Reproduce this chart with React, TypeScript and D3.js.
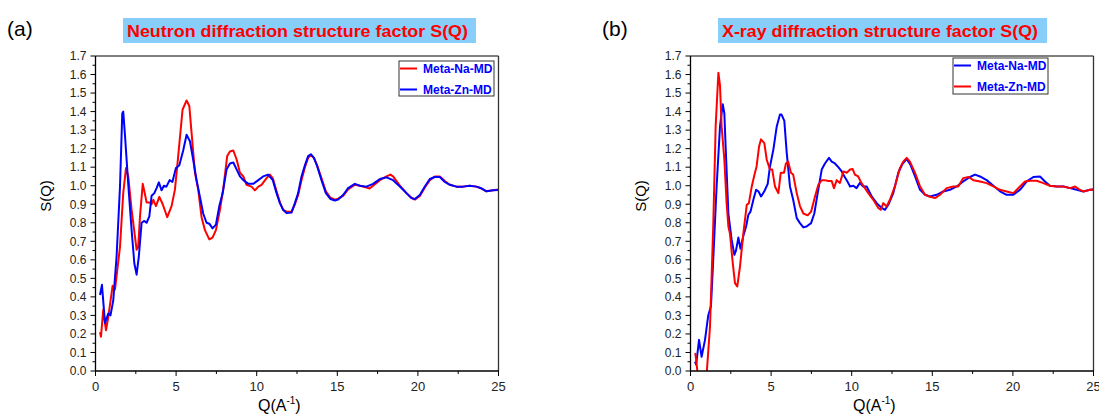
import React from "react";
import * as d3 from "d3";

// ---------- DATA ----------
// Panel (a) neutron S(Q)
const nNaQ = [0.28,0.34,0.48,0.65,0.79,1.06,1.21,1.52,1.72,1.89,2.03,2.24,2.55,2.65,2.76,2.93,3.03,3.17,3.38,3.48,3.59,3.75,3.96,4.17,4.45,4.72,4.93,5.13,5.40,5.65,5.82,5.96,6.17,6.37,6.58,6.79,7.06,7.26,7.47,7.72,7.92,8.17,8.34,8.55,8.76,8.96,9.17,9.37,9.68,9.89,10.1,10.3,10.6,10.82,11.0,11.23,11.44,11.64,11.85,12.16,12.37,12.57,12.78,12.99,13.19,13.36,13.55,13.75,14.02,14.29,14.58,14.85,15.05,15.36,15.67,16.09,16.4,16.81,17.0,17.22,17.64,18.05,18.3,18.46,18.88,19.29,19.6,19.81,20.12,20.43,20.74,21.05,21.36,21.67,21.98,22.39,22.8,23.22,23.63,23.94,24.25,24.67,25];
const nNaS = [0.21,0.185,0.33,0.22,0.29,0.46,0.44,0.67,0.96,1.095,1.05,0.87,0.654,0.67,0.834,1.01,0.97,0.91,0.91,0.90,0.924,0.89,0.94,0.90,0.83,0.89,0.98,1.16,1.41,1.46,1.43,1.285,1.07,0.98,0.83,0.76,0.71,0.72,0.76,0.87,0.98,1.16,1.185,1.19,1.14,1.07,1.05,1.005,0.995,0.975,0.995,1.005,1.04,1.06,1.04,0.97,0.91,0.87,0.86,0.86,0.90,0.95,1.03,1.10,1.15,1.165,1.15,1.11,1.04,0.97,0.935,0.925,0.93,0.945,0.98,1.005,1.0,0.99,0.985,1.0,1.03,1.05,1.06,1.05,1.0,0.96,0.935,0.925,0.945,0.99,1.03,1.05,1.05,1.025,1.005,0.995,0.995,1.0,0.995,0.985,0.97,0.975,0.98];
const nZnQ = [0.28,0.40,0.59,0.79,0.93,1.1,1.31,1.52,1.66,1.72,1.83,2.03,2.24,2.41,2.55,2.69,2.86,3.03,3.17,3.34,3.48,3.65,3.79,3.93,4.1,4.24,4.4,4.6,4.77,4.99,5.2,5.44,5.65,5.86,6.06,6.27,6.48,6.68,6.89,7.06,7.26,7.47,7.68,7.89,8.13,8.34,8.55,8.76,8.96,9.17,9.48,9.79,10.1,10.4,10.7,11.0,11.23,11.44,11.64,11.85,12.16,12.37,12.57,12.78,12.99,13.19,13.36,13.55,13.75,14.02,14.29,14.58,14.85,15.05,15.36,15.67,16.09,16.4,16.81,17.22,17.64,18.05,18.46,18.88,19.29,19.6,19.81,20.12,20.43,20.74,21.05,21.36,21.67,21.98,22.39,22.8,23.22,23.63,23.94,24.25,24.67,25];
const nZnS = [0.41,0.465,0.258,0.31,0.30,0.38,0.62,0.996,1.39,1.40,1.27,1.01,0.76,0.58,0.52,0.62,0.80,0.81,0.80,0.834,0.946,0.96,0.987,1.018,0.975,1.0,0.995,1.03,1.02,1.095,1.11,1.19,1.275,1.24,1.14,1.03,0.94,0.85,0.80,0.795,0.77,0.79,0.89,0.96,1.087,1.12,1.125,1.087,1.05,1.03,1.01,1.01,1.03,1.05,1.06,1.03,0.96,0.906,0.87,0.852,0.855,0.906,0.96,1.05,1.11,1.16,1.17,1.15,1.105,1.03,0.96,0.928,0.92,0.925,0.95,0.987,1.01,1.0,0.995,1.01,1.036,1.045,1.03,0.996,0.96,0.933,0.928,0.95,0.996,1.036,1.047,1.047,1.02,1.005,0.995,0.995,1.0,0.995,0.986,0.97,0.975,0.977];

// Panel (b) X-ray S(Q)
const xNaQ = [0.28,0.35,0.53,0.69,0.9,1.1,1.27,1.41,1.62,1.83,2.0,2.1,2.18,2.35,2.55,2.72,2.82,2.97,3.1,3.28,3.45,3.59,3.72,3.9,4.07,4.21,4.38,4.58,4.79,4.93,5.14,5.35,5.55,5.65,5.82,5.97,6.17,6.37,6.59,6.79,7.0,7.2,7.48,7.68,7.89,8.14,8.34,8.59,8.76,8.96,9.17,9.38,9.55,9.69,9.9,10.1,10.3,10.5,10.7,10.93,11.24,11.55,11.86,12.07,12.27,12.58,12.89,13.16,13.41,13.66,13.93,14.24,14.55,14.86,15.27,15.68,16.1,16.51,16.92,17.34,17.65,17.96,18.37,18.79,19.2,19.61,20.03,20.44,20.86,21.27,21.68,21.99,22.3,22.72,23.13,23.55,23.96,24.37,24.79,25];
const xNaS = [0.05,0.035,0.168,0.077,0.168,0.30,0.35,0.6,0.996,1.32,1.44,1.39,1.21,0.85,0.71,0.627,0.65,0.72,0.66,0.73,0.78,0.843,0.86,0.924,0.978,0.97,0.942,0.97,1.01,1.104,1.195,1.32,1.384,1.384,1.35,1.177,0.996,0.924,0.825,0.798,0.775,0.78,0.798,0.85,0.96,1.087,1.12,1.15,1.13,1.12,1.10,1.077,1.05,1.03,0.996,1.0,0.987,1.015,0.996,0.996,0.942,0.906,0.88,0.87,0.897,0.96,1.07,1.12,1.144,1.11,1.05,0.978,0.951,0.942,0.951,0.969,0.978,0.996,1.023,1.047,1.06,1.05,1.03,1.0,0.97,0.951,0.951,0.978,1.023,1.047,1.05,1.023,1.0,0.996,0.996,0.987,0.978,0.969,0.978,0.98];
const xZnQ = [0.28,0.31,0.49,0.75,1.0,1.21,1.41,1.56,1.73,1.83,1.93,2.1,2.24,2.35,2.45,2.6,2.76,2.9,3.07,3.28,3.49,3.62,3.80,3.97,4.1,4.25,4.37,4.58,4.73,4.93,5.07,5.24,5.45,5.6,5.8,5.92,6.06,6.23,6.37,6.59,6.79,7.0,7.27,7.48,7.72,7.93,8.14,8.3,8.55,8.76,8.9,9.07,9.27,9.48,9.69,9.9,10.06,10.2,10.4,10.6,10.8,11.03,11.34,11.65,11.8,11.96,12.17,12.37,12.68,12.99,13.2,13.41,13.61,13.93,14.24,14.55,14.86,15.17,15.48,15.89,16.3,16.61,16.92,17.24,17.55,17.96,18.37,18.79,19.2,19.61,20.03,20.44,20.75,21.06,21.47,21.89,22.3,22.72,23.13,23.55,23.86,24.1,24.37,24.79,25];
const xZnS = [0.096,0.09,-0.05,-0.15,-0.02,0.24,0.78,1.32,1.61,1.54,1.32,1.14,0.906,0.78,0.74,0.6,0.474,0.456,0.564,0.744,0.897,0.905,0.996,1.06,1.104,1.21,1.25,1.23,1.14,1.087,1.087,0.996,0.96,1.07,1.07,1.12,1.13,1.07,1.06,0.96,0.89,0.85,0.84,0.86,0.94,1.005,1.03,1.03,1.025,1.025,0.987,1.03,1.015,1.077,1.07,1.087,1.09,1.06,1.05,1.015,0.99,0.96,0.924,0.88,0.87,0.906,0.888,0.924,0.996,1.095,1.13,1.15,1.13,1.069,0.996,0.951,0.94,0.933,0.951,0.987,0.996,0.996,1.041,1.047,1.03,1.023,1.014,0.996,0.978,0.969,0.96,0.996,1.023,1.027,1.027,1.014,1.0,0.996,0.996,0.987,0.996,0.98,0.969,0.978,0.98];

const xTicks = [0, 5, 10, 15, 20, 25];
const yTicks = [0.0,0.1,0.2,0.3,0.4,0.5,0.6,0.7,0.8,0.9,1.0,1.1,1.2,1.3,1.4,1.5,1.6,1.7];

const FONT = "'Liberation Sans', Arial, Helvetica, sans-serif";
const RED = "#ff0000";
const BLUE = "#0000ff";

type Series = { name: string; q: number[]; s: number[]; color: string };

interface PanelProps {
  id: string;
  tag: string;
  title: string;
  left: number;
  right: number;
  top: number;
  bottom: number;
  titleBox: [number, number];
  titleText: [number, number];
  tagX: number;
  ylabelX: number;
  xlabelX: number;
  legend: { x: number; y: number; w: number; h: number };
  series: Series[];
}

function Panel(p: PanelProps) {
  const x = d3.scaleLinear().domain([0, 25]).range([p.left, p.right]);
  const y = d3.scaleLinear().domain([0, 1.7]).range([p.bottom, p.top]);
  const line = (q: number[], s: number[]) =>
    d3.line<number>().x((_, i) => x(q[i])).y((v) => y(v))(s) || "";
  const minorX = d3.range(0, 25.01, 2.5).filter((v) => Math.abs(v % 5) > 0.01);
  const minorY = d3.range(0.05, 1.7, 0.1);
  const clipId = "clip-" + p.id;
  return (
    <g>
      <text x={p.tagX} y={36} fontFamily={FONT} fontSize={21} fill="#000">{p.tag}</text>
      <rect x={p.titleBox[0]} y={18} width={p.titleBox[1] - p.titleBox[0]} height={25} fill="#87cefa" />
      <text x={p.titleText[0]} y={36.5} textLength={p.titleText[1] - p.titleText[0]} lengthAdjust="spacingAndGlyphs"
        fontFamily={FONT} fontWeight="bold" fontSize={16.5} fill={RED}>{p.title}</text>

      <defs>
        <clipPath id={clipId}>
          <rect x={p.left} y={p.top} width={p.right - p.left} height={p.bottom - p.top} />
        </clipPath>
      </defs>

      <g clipPath={`url(#${clipId})`}>
        {p.series.map((s) => (
          <path key={s.name} d={line(s.q, s.s)} fill="none" stroke={s.color} strokeWidth={2} strokeLinejoin="round" />
        ))}
      </g>

      {/* frame */}
      <line x1={p.left} x2={p.right} y1={p.top} y2={p.top} stroke="#000" strokeWidth={1} />
      <line x1={p.right} x2={p.right} y1={p.top} y2={p.bottom} stroke="#333" strokeWidth={1.3} />
      <line x1={p.left} x2={p.left} y1={p.top} y2={p.bottom} stroke="#000" strokeWidth={1.3} />
      <line x1={p.left} x2={p.right} y1={p.bottom} y2={p.bottom} stroke="#000" strokeWidth={1.3} />

      {/* y ticks */}
      {yTicks.map((t) => (
        <g key={"y" + t}>
          <line x1={p.left - 5} x2={p.left} y1={y(t)} y2={y(t)} stroke="#000" strokeWidth={1} />
          <text x={p.left - 9} y={y(t)} dy="0.36em" textAnchor="end" fontFamily={FONT} fontSize={12} fill="#222">{t.toFixed(1)}</text>
        </g>
      ))}
      {minorY.map((t) => (
        <line key={"my" + t} x1={p.left - 3} x2={p.left} y1={y(t)} y2={y(t)} stroke="#000" strokeWidth={1} />
      ))}
      {/* x ticks */}
      {xTicks.map((t) => (
        <g key={"x" + t}>
          <line x1={x(t)} x2={x(t)} y1={p.bottom} y2={p.bottom + 5} stroke="#000" strokeWidth={1} />
          <text x={x(t)} y={p.bottom + 20} textAnchor="middle" fontFamily={FONT} fontSize={13} fill="#222">{t}</text>
        </g>
      ))}
      {minorX.map((t) => (
        <line key={"mx" + t} x1={x(t)} x2={x(t)} y1={p.bottom} y2={p.bottom + 3} stroke="#000" strokeWidth={1} />
      ))}

      <text transform={`translate(${p.ylabelX},196) rotate(-90)`} textAnchor="middle" fontFamily={FONT} fontSize={15} fill="#000">S(Q)</text>
      <text x={p.xlabelX} y={411} fontFamily={FONT} fontSize={16} fill="#000">
        Q(A<tspan fontSize={10} dy={-7}>-1</tspan><tspan dy={7}>)</tspan>
      </text>

      {/* legend */}
      <rect x={p.legend.x} y={p.legend.y} width={p.legend.w} height={p.legend.h} fill="#fff" stroke="#333" strokeWidth={1} />
      {p.series.map((s, i) => {
        const ly = p.legend.y + 7.5 + i * 21;
        return (
          <g key={"lg" + s.name}>
            <line x1={p.legend.x + 1} x2={p.legend.x + 18} y1={ly} y2={ly} stroke={s.color} strokeWidth={2} />
            <text x={p.legend.x + 24} y={ly} dy="0.36em" fontFamily={FONT} fontWeight="bold" fontSize={12} fill={BLUE}>{s.name}</text>
          </g>
        );
      })}
    </g>
  );
}

export default function App() {
  return (
    <svg width={1099} height={415} style={{ position: "absolute", left: 0, top: 0, background: "#fff" }}>
      <rect x={0} y={0} width={1099} height={415} fill="#fff" />
      <Panel
        id="a" tag="(a)" title="Neutron diffraction structure factor S(Q)"
        left={95.5} right={498.5} top={56} bottom={371}
        titleBox={[123, 476]} titleText={[127, 468]} tagX={7} ylabelX={51} xlabelX={258}
        legend={{ x: 399, y: 61, w: 95, h: 35 }}
        series={[
          { name: "Meta-Na-MD", q: nNaQ, s: nNaS, color: RED },
          { name: "Meta-Zn-MD", q: nZnQ, s: nZnS, color: BLUE },
        ]}
      />
      <Panel
        id="b" tag="(b)" title="X-ray diffraction structure factor S(Q)"
        left={690.5} right={1093.5} top={56} bottom={371}
        titleBox={[718, 1047]} titleText={[722, 1038]} tagX={602} ylabelX={646} xlabelX={853}
        legend={{ x: 953, y: 58, w: 95, h: 36 }}
        series={[
          { name: "Meta-Na-MD", q: xNaQ, s: xNaS, color: BLUE },
          { name: "Meta-Zn-MD", q: xZnQ, s: xZnS, color: RED },
        ]}
      />
    </svg>
  );
}
